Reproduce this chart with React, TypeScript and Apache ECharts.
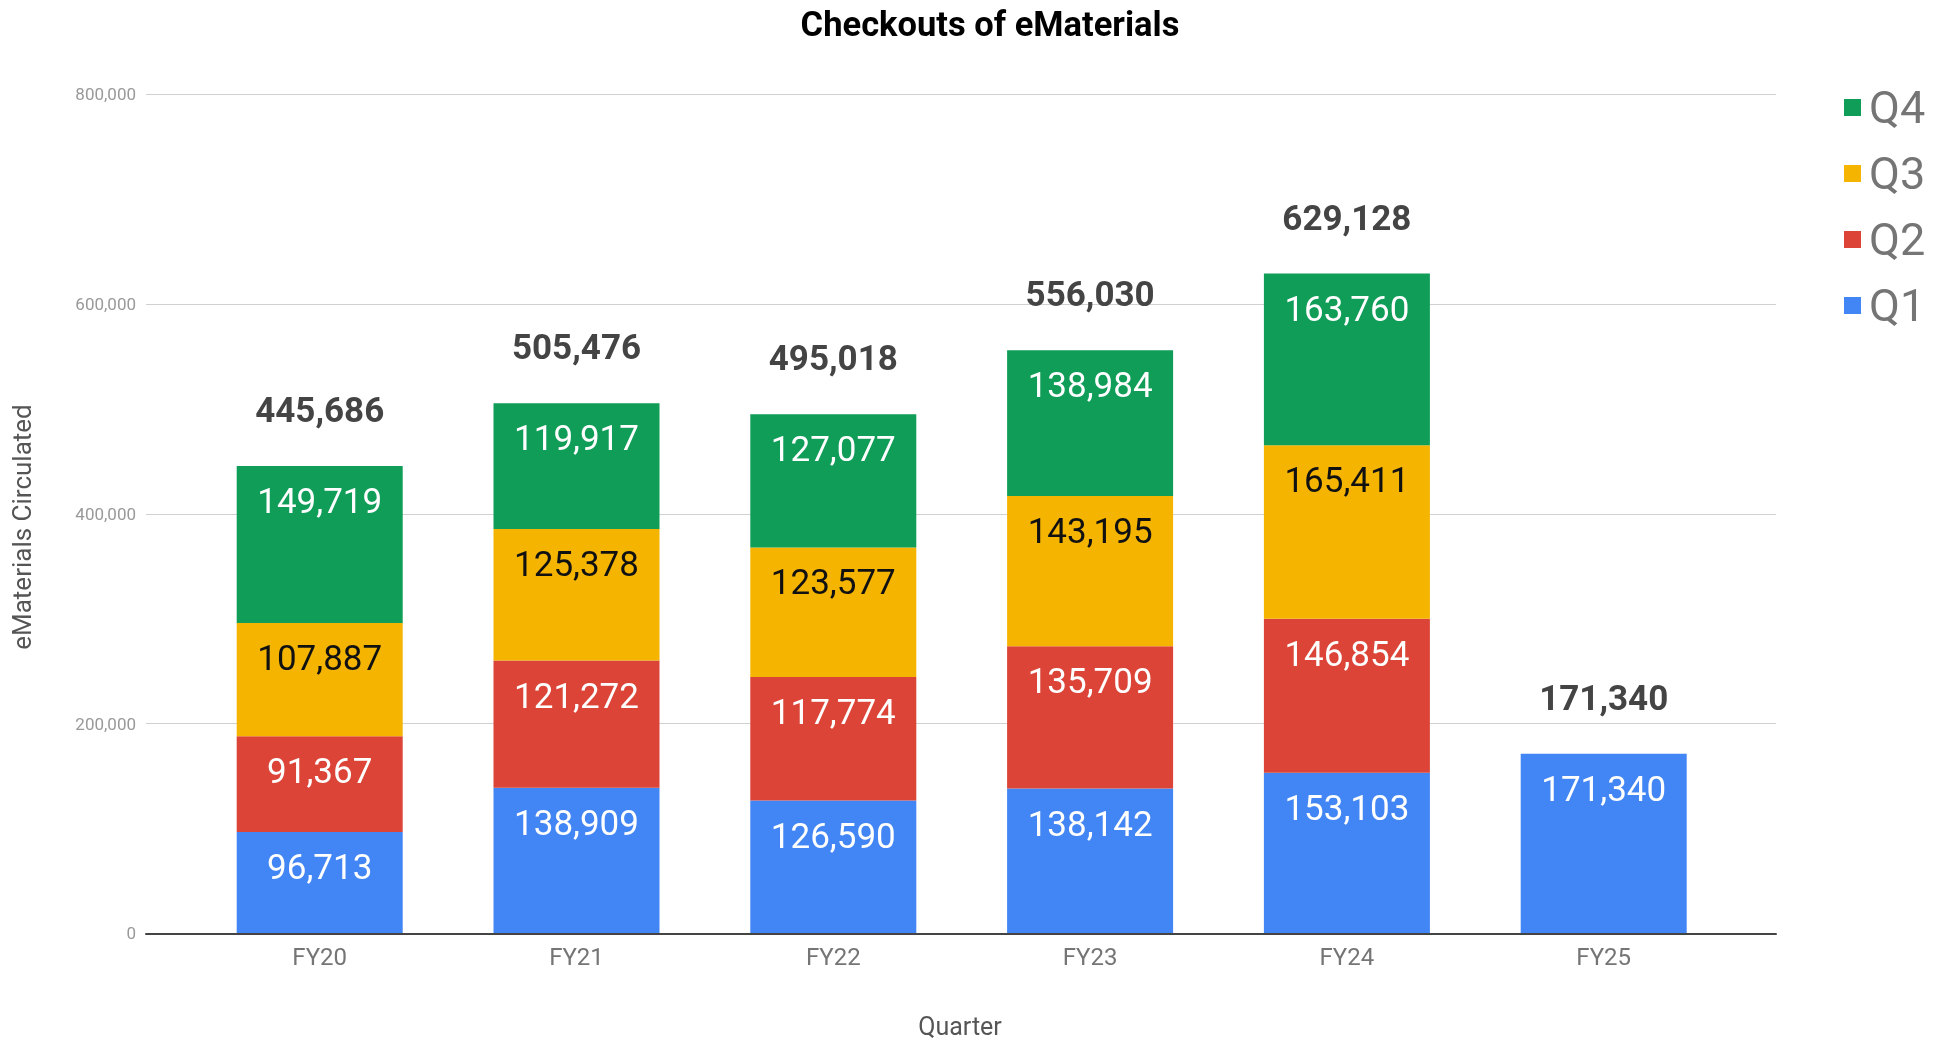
import React, { useEffect, useRef } from "react";
import * as echarts from "echarts";

const categories = ["FY20", "FY21", "FY22", "FY23", "FY24", "FY25"];
const q1 = [96713, 138909, 126590, 138142, 153103, 171340];
const q2 = [91367, 121272, 117774, 135709, 146854, null];
const q3 = [107887, 125378, 123577, 143195, 165411, null];
const q4 = [149719, 119917, 127077, 138984, 163760, null];
const totals = [445686, 505476, 495018, 556030, 629128, 171340];
const yTicks = [0, 200000, 400000, 600000, 800000];

const FONT = "Roboto";
const fmt = (v: number) => Number(v).toLocaleString("en-US");

export default function App() {
  const ref = useRef<HTMLDivElement>(null);
  useEffect(() => {
    if (!ref.current) return;
    document.body.style.margin = "0";
    const chart = echarts.init(ref.current, undefined, { renderer: "svg" });
    const segLabel = (color: string) => ({
      show: true,
      position: "insideTop",
      distance: 18,
      fontFamily: FONT,
      fontSize: 35,
      color,
      formatter: (p: any) => (p.value == null ? "" : fmt(p.value)),
    });
    const mk = (name: string, data: (number | null)[], color: string, labelColor: string) => ({
      name,
      type: "bar",
      stack: "total",
      xAxisIndex: 1,
      yAxisIndex: 1,
      barWidth: 166,
      data: data.map((v) => (v == null ? "-" : v)),
      itemStyle: { color },
      label: segLabel(labelColor),
      emphasis: { disabled: true },
    });
    chart.setOption({
      animation: false,
      textStyle: { fontFamily: FONT },
      grid: [
        { left: 146, right: 170, top: 94.3, bottom: 107.6 },
        { left: 191.3, right: 213.9, top: 94.3, bottom: 107.6 },
      ],
      xAxis: [
        {
          gridIndex: 0,
          type: "value",
          min: 0,
          max: 1,
          z: 10,
          axisLine: { show: true, onZero: false, lineStyle: { color: "#444", width: 2 } },
          axisTick: { show: false },
          axisLabel: { show: false },
          splitLine: { show: false },
        },
        {
          gridIndex: 1,
          type: "category",
          data: categories,
          axisLine: { show: false },
          axisTick: { show: false },
          axisLabel: { fontFamily: FONT, fontSize: 24, color: "#757575", margin: 12 },
        },
      ],
      yAxis: [
        {
          gridIndex: 0,
          type: "value",
          min: yTicks[0],
          max: yTicks[yTicks.length - 1],
          interval: yTicks[1] - yTicks[0],
          axisLine: { show: false },
          axisTick: { show: false },
          axisLabel: {
            fontFamily: FONT,
            fontSize: 17,
            color: "#999",
            margin: 10,
            formatter: (v: number) => fmt(v),
          },
          splitLine: { lineStyle: { color: "#d0d0d0", width: 1 } },
        },
        {
          gridIndex: 1,
          type: "value",
          min: yTicks[0],
          max: yTicks[yTicks.length - 1],
          show: false,
        },
      ],
      legend: {
        orient: "vertical",
        left: 1839,
        top: 80,
        itemWidth: 17,
        itemHeight: 17,
        itemGap: 21,
        icon: "rect",
        data: ["Q4", "Q3", "Q2", "Q1"],
        textStyle: {
          fontFamily: FONT,
          fontSize: 45,
          lineHeight: 45,
          color: "#757575",
          padding: [0, 0, 0, 3],
        },
        selectedMode: false,
      },
      graphic: [
        {
          type: "text",
          x: 990,
          y: 24,
          style: {
            text: "Checkouts of eMaterials",
            fontFamily: FONT,
            fontWeight: "bold",
            fontSize: 34.5,
            fill: "#000",
            textAlign: "center",
            textVerticalAlign: "middle",
          },
        },
        {
          type: "text",
          x: 22,
          y: 527,
          rotation: Math.PI / 2,
          style: {
            text: "eMaterials Circulated",
            fontFamily: FONT,
            fontSize: 26,
            fill: "#555",
            textAlign: "center",
            textVerticalAlign: "middle",
          },
        },
        {
          type: "text",
          x: 960,
          y: 1026,
          style: {
            text: "Quarter",
            fontFamily: FONT,
            fontSize: 25,
            fill: "#555",
            textAlign: "center",
            textVerticalAlign: "middle",
          },
        },
      ],
      series: [
        mk("Q1", q1, "#4285f4", "#fff"),
        mk("Q2", q2, "#db4437", "#fff"),
        mk("Q3", q3, "#f4b400", "#111"),
        mk("Q4", q4, "#0f9d58", "#fff"),
        {
          name: "Total",
          type: "bar",
          stack: "total",
          xAxisIndex: 1,
          yAxisIndex: 1,
          barWidth: 166,
          data: totals.map(() => 0),
          itemStyle: { color: "transparent" },
          label: {
            show: true,
            position: "top",
            distance: 38,
            fontFamily: FONT,
            fontWeight: "bold",
            fontSize: 35,
            color: "#444",
            formatter: (p: any) => fmt(totals[p.dataIndex]),
          },
          emphasis: { disabled: true },
        },
      ],
    });
    return () => chart.dispose();
  }, []);
  return (
    <div
      ref={ref}
      style={{ position: "fixed", left: 0, top: 0, width: 1946, height: 1041 }}
    />
  );
}
